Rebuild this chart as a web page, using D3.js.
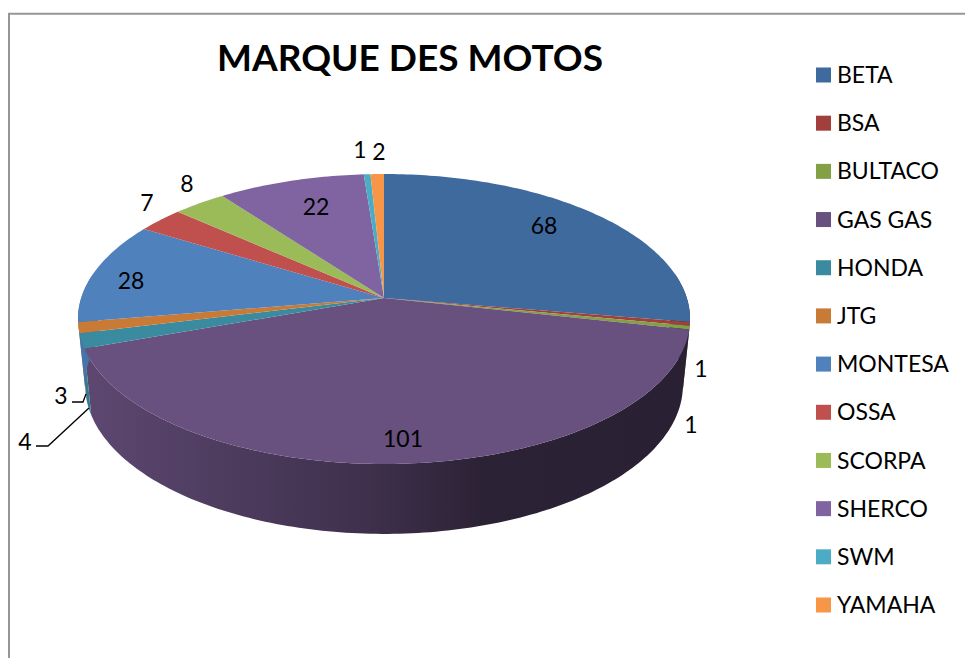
<!DOCTYPE html>
<html>
<head>
  <meta charset="utf-8">
  <script src="https://d3js.org/d3.v7.min.js"></script>
  <style>
    html, body { margin: 0; padding: 0; background: #fff; }
    svg { display: block; }
    text { font-family: Lato, "Open Sans", sans-serif; fill: #000; }
  </style>
</head>
<body>
<script>
var brands = ["BETA", "BSA", "BULTACO", "GAS GAS", "HONDA", "JTG", "MONTESA", "OSSA", "SCORPA", "SHERCO", "SWM", "YAMAHA"];
var counts = [68, 1, 1, 101, 4, 3, 28, 7, 8, 22, 1, 2];
var colors = ["#3e6a9e", "#a03f3c", "#83a044", "#68507f", "#3a8aa0", "#c97a35", "#4f81bd", "#c0504d", "#9bbb59", "#8064a2", "#4bacc6", "#f79646"];

var width = 965, height = 658;

var svg = d3.select("body").append("svg")
    .attr("width", width)
    .attr("height", height);

// chart frame, only top and left show in the crop
svg.append("path")
    .attr("d", "M9,658V13.7H965")
    .attr("fill", "none")
    .attr("stroke", "#969696")
    .attr("stroke-width", 2);

svg.append("text")
    .attr("x", 410).attr("y", 71)
    .attr("text-anchor", "middle")
    .style("font-size", "37px")
    .style("font-weight", 700)
    .text("MARQUE DES MOTOS");

// tilted disc: circle point (u,v) to screen, with perspective
function projector(cx, a, b, c, d) {
  return function (angle) {
    var u = Math.sin(angle), v = -Math.cos(angle), w = 1 + c * v;
    return [cx + d * u / w, (a * v + b) / w];
  };
}
var topFace = projector(384, 98.8, 298, -0.1448, 302.8);
var lowFace = projector(384, 93.2, 363.4, -0.1448, 295.8);

var slices = d3.pie().sort(null)(counts);
var rad = Math.PI / 180;

function arcPoints(face, a0, a1) {
  var n = Math.max(2, Math.ceil((a1 - a0) / rad));
  return d3.range(n + 1).map(function (k) { return face(a0 + (a1 - a0) * k / n); });
}

// wall gets darker from left to right, one gradient per colour
var wallStops = [0, 0.48, 0.66, 1];
var wallShade = [0.9, 0.6, 0.42, 0.4];
var defs = svg.append("defs");
colors.forEach(function (c, i) {
  var grad = defs.append("linearGradient")
      .attr("id", "wall" + i)
      .attr("gradientUnits", "userSpaceOnUse")
      .attr("x1", 78).attr("x2", 690)
      .attr("y1", 0).attr("y2", 0);
  wallStops.forEach(function (s, k) {
    grad.append("stop")
        .attr("offset", s)
        .attr("stop-color", d3.interpolateRgb("#000", c)(wallShade[k]));
  });
});

// only the front part of the wall can show
var frontStart = 80 * rad, frontEnd = 280 * rad;
var walls = slices.filter(function (s) {
  return s.endAngle > frontStart && s.startAngle < frontEnd;
});
svg.append("g").selectAll("path").data(walls).join("path")
    .attr("d", function (s) {
      var a0 = Math.max(s.startAngle, frontStart), a1 = Math.min(s.endAngle, frontEnd);
      var pts = arcPoints(topFace, a0, a1).concat(arcPoints(lowFace, a0, a1).reverse());
      return "M" + pts.join("L") + "Z";
    })
    .attr("fill", function (s) { return "url(#wall" + s.index + ")"; });

// top face
svg.append("g").selectAll("path").data(slices).join("path")
    .attr("d", function (s) {
      var pts = [[384, 298]].concat(arcPoints(topFace, s.startAngle, s.endAngle));
      return "M" + pts.join("L") + "Z";
    })
    .attr("fill", function (d, i) { return colors[i]; });

// data labels, placed by hand like the original
var labelX = [544, 701, 691, 403, 25, 61, 131, 147, 187, 316, 360, 379];
var labelY = [226, 369, 425, 439, 442, 396, 281, 203, 184, 207, 150, 152];
svg.append("g").selectAll("text").data(counts).join("text")
    .attr("x", function (d, i) { return labelX[i]; })
    .attr("y", function (d, i) { return labelY[i]; })
    .attr("dy", "0.35em")
    .attr("text-anchor", "middle")
    .style("font-size", "23px")
    .text(function (d) { return d; });

// leader lines for 3 and 4
var leaders = ["M72,402H83L86,394", "M36,446H48L89,408"];
svg.append("g").selectAll("path").data(leaders).join("path")
    .attr("d", function (d) { return d; })
    .attr("fill", "none")
    .attr("stroke", "#000")
    .attr("stroke-width", 1.3);

// legend
var legendY = d3.scalePoint().domain(brands).range([75, 605]);
var legend = svg.append("g").selectAll("g").data(brands).join("g")
    .attr("transform", function (d) { return "translate(816," + legendY(d) + ")"; });
legend.append("rect")
    .attr("x", 0).attr("y", -7.5)
    .attr("width", 15).attr("height", 15)
    .attr("fill", function (d, i) { return colors[i]; });
legend.append("text")
    .attr("x", 21)
    .attr("dy", "0.35em")
    .style("font-size", "23px")
    .text(function (d) { return d; });
</script>
</body>
</html>
